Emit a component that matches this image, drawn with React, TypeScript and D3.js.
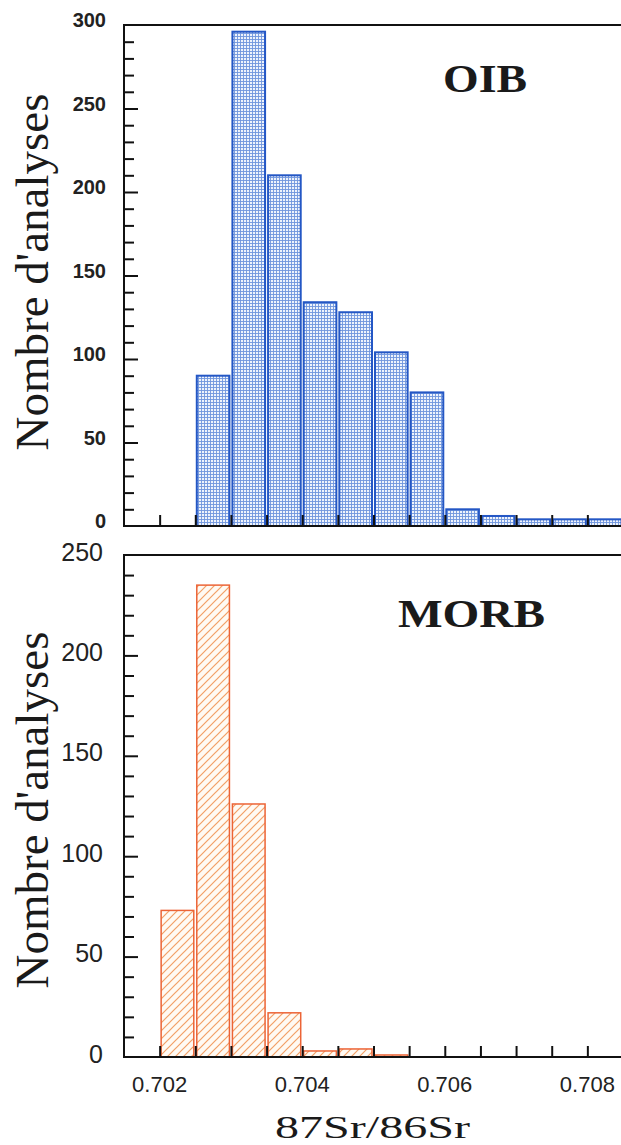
import React, { useEffect, useRef } from 'react';
import * as d3 from 'd3';

// 87Sr/86Sr histograms, bins of 0.0005
const binWidth = 0.0005;
const oibBins = [0.7025, 0.703, 0.7035, 0.704, 0.7045, 0.705, 0.7055, 0.706, 0.7065, 0.707, 0.7075, 0.708];
const oibCounts = [90, 296, 210, 134, 128, 104, 80, 10, 6, 4, 4, 4];
const morbBins = [0.702, 0.7025, 0.703, 0.7035, 0.704, 0.7045, 0.705];
const morbCounts = [73, 235, 126, 22, 3, 4, 1];

const xTicks = d3.range(0, 13).map(i => +(0.702 + i * 0.0005).toFixed(4));
const xTickLabels = [0.702, 0.704, 0.706, 0.708];
const oibYTicks = [0, 50, 100, 150, 200, 250, 300];
const morbYTicks = [0, 50, 100, 150, 200, 250];

const W = 621;
const H = 1145;

const App = () => {
  const ref = useRef<SVGSVGElement | null>(null);

  useEffect(() => {
    if (!ref.current) return;
    const svg = d3.select(ref.current);
    svg.selectAll('*').remove();

    const left = 124;
    const right = 623;
    const x = d3.scaleLinear().domain([0.7015, 0.7085]).range([left, right]);

    const defs = svg.append('defs');
    const grid = defs.append('pattern')
      .attr('id', 'oibGrid')
      .attr('patternUnits', 'userSpaceOnUse')
      .attr('width', 3).attr('height', 3);
    grid.append('rect').attr('width', 3).attr('height', 3).attr('fill', '#eef3fc');
    grid.append('path')
      .attr('d', 'M0,0.5H3M0.5,0V3')
      .attr('stroke', '#6f95dc').attr('stroke-width', 0.9);

    const hatch = defs.append('pattern')
      .attr('id', 'morbHatch')
      .attr('patternUnits', 'userSpaceOnUse')
      .attr('width', 8).attr('height', 8);
    hatch.append('rect').attr('width', 8).attr('height', 8).attr('fill', '#fffaf3');
    hatch.append('path')
      .attr('d', 'M0,8L8,0M-2,2L2,-2M6,10L10,6')
      .attr('stroke', '#f2a066').attr('stroke-width', 1.2);

    const panels = [
      {
        top: 25, bottom: 526, max: 300, ticks: oibYTicks, bins: oibBins, counts: oibCounts,
        fill: 'url(#oibGrid)', stroke: '#2457c5', strokeW: 2, name: 'OIB', nameX: 443, nameY: 92, nameLen: 84,
        labelFont: 'bold 20px "Liberation Sans", Arial, sans-serif', labelRight: 106, labelDy: -3, titleY: 272,
      },
      {
        top: 555, bottom: 1057, max: 250, ticks: morbYTicks, bins: morbBins, counts: morbCounts,
        fill: 'url(#morbHatch)', stroke: '#ec6436', strokeW: 1.5, name: 'MORB', nameX: 398, nameY: 627, nameLen: 147,
        labelFont: '25px "Liberation Sans", Arial, sans-serif', labelRight: 103, labelDy: -1, titleY: 810,
      },
    ];

    panels.forEach(p => {
      const y = d3.scaleLinear().domain([0, p.max]).range([p.bottom, p.top]);
      const g = svg.append('g');

      // bars
      g.selectAll('rect.bar')
        .data(p.bins.map((b, i) => ({ b, c: p.counts[i] })))
        .join('rect')
        .attr('class', 'bar')
        .attr('x', d => x(d.b) + 1.5)
        .attr('width', d => x(d.b + binWidth) - x(d.b) - 3)
        .attr('y', d => y(d.c))
        .attr('height', d => y(0) - y(d.c))
        .attr('fill', p.fill)
        .attr('stroke', p.stroke)
        .attr('stroke-width', p.strokeW);

      // y ticks: minor every 10, major every 50, pointing inward
      const minor = d3.range(10, p.max, 10).filter(v => v % 50 !== 0);
      const styleAxis = (ax: d3.Selection<SVGGElement, unknown, null, undefined>) => {
        ax.select('.domain').remove();
        ax.selectAll('line').attr('stroke', '#111').attr('stroke-width', 2);
        ax.selectAll('text').remove();
      };
      g.append('g')
        .attr('transform', `translate(${left},0)`)
        .call(d3.axisRight(y).tickValues(minor).tickSize(10))
        .call(styleAxis);
      g.append('g')
        .attr('transform', `translate(${left},0)`)
        .call(d3.axisRight(y).tickValues(p.ticks.filter(v => v > 0 && v < p.max)).tickSize(14))
        .call(styleAxis);

      // x ticks pointing up
      g.append('g')
        .attr('transform', `translate(0,${p.bottom})`)
        .call(d3.axisTop(x).tickValues(xTicks).tickSize(11))
        .call(styleAxis);

      // frame
      g.append('path')
        .attr('d', `M${right + 5},${p.top}H${left}V${p.bottom}H${right + 5}`)
        .attr('fill', 'none')
        .attr('stroke', '#111')
        .attr('stroke-width', 2);

      g.selectAll('text.ylab')
        .data(p.ticks)
        .join('text')
        .attr('class', 'ylab')
        .attr('x', p.labelRight)
        .attr('y', d => y(d) + p.labelDy)
        .attr('text-anchor', 'end')
        .attr('dominant-baseline', 'middle')
        .style('font', p.labelFont)
        .attr('fill', '#222')
        .text(d => d);

      g.append('text')
        .attr('x', p.nameX).attr('y', p.nameY)
        .attr('textLength', p.nameLen)
        .attr('lengthAdjust', 'spacingAndGlyphs')
        .style('font', 'bold 40px "Liberation Serif", "Times New Roman", serif')
        .attr('fill', '#1a1a1a')
        .text(p.name);

      g.append('text')
        .attr('transform', `translate(48,${p.titleY}) rotate(-90)`)
        .attr('text-anchor', 'middle')
        .style('font', '47px "Liberation Serif", "Times New Roman", serif')
        .attr('fill', '#1a1a1a')
        .text("Nombre d'analyses");
    });

    svg.selectAll('text.xlab')
      .data(xTickLabels)
      .join('text')
      .attr('class', 'xlab')
      .attr('x', d => x(d))
      .attr('y', 1086)
      .attr('text-anchor', 'middle')
      .attr('dominant-baseline', 'middle')
      .style('font', '22px "Liberation Sans", Arial, sans-serif')
      .attr('fill', '#222')
      .text(d => d3.format('.3f')(d));

    svg.append('text')
      .attr('x', 275).attr('y', 1138)
      .attr('textLength', 195)
      .attr('lengthAdjust', 'spacingAndGlyphs')
      .style('font', '32px "Liberation Serif", "Times New Roman", serif')
      .attr('fill', '#1a1a1a')
      .text('87Sr/86Sr');
  }, []);

  return (
    <svg
      ref={ref}
      width={W}
      height={H}
      style={{ position: 'absolute', left: 0, top: 0, background: '#fff' }}
    />
  );
};

export default App;
